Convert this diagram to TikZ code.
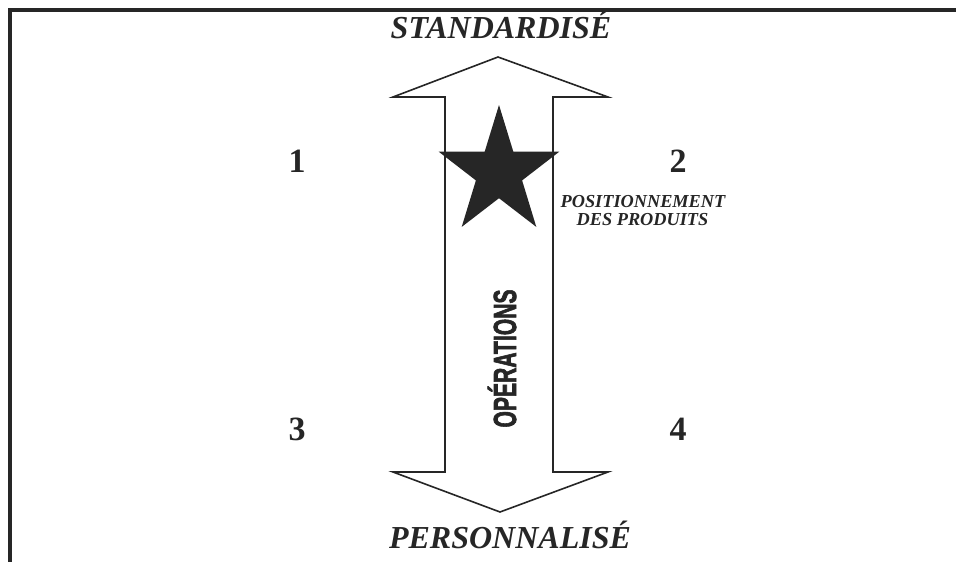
\documentclass[tikz,border=0pt]{standalone}
\usepackage{fontspec}
\setmainfont{Liberation Serif}
\newfontfamily\opsfont[BoldFeatures={FakeBold=2.5}]{Liberation Sans}
\definecolor{ink}{HTML}{262626}
\tikzset{
  frameline/.style={draw=ink, line width=4pt},
  arrowshape/.style={draw=ink, line width=1.6pt, line join=miter, fill=white},
  starshape/.style={fill=ink},
  headlabel/.style={font=\fontsize{32}{38}\selectfont\bfseries\itshape, text=ink, inner sep=0pt, anchor=base},
  numlabel/.style={font=\fontsize{34}{40}\selectfont\bfseries, text=ink, inner sep=0pt, anchor=base},
  smalllabel/.style={font=\fontsize{18.3}{18}\selectfont\bfseries\itshape, text=ink, inner sep=0pt, align=center, anchor=base},
  opslabel/.style={font=\opsfont\fontsize{32}{36}\selectfont\bfseries, text=ink, inner sep=0pt, rotate=90, xscale=0.66}
}
\begin{document}
\begin{tikzpicture}[x=1pt,y=-1pt]
\useasboundingbox (0,0) rectangle (956,562);
\fill[white] (0,0) rectangle (956,562);
% frame (top and left only)
\draw[frameline] (956,9.5) -- (10,9.5) -- (10,562);
% double-headed arrow
\draw[arrowshape] (498,57) -- (608,97) -- (553,97) -- (553,472) -- (608,472)
  -- (500,512) -- (393,472) -- (445,472) -- (445,97) -- (393,97) -- cycle;
% star
\fill[starshape] (499,105) -- (484.7,151.6) -- (438.6,151.6) -- (475.9,180.4)
  -- (461.7,226.9) -- (499,198.2) -- (536.3,226.9) -- (522.1,180.4)
  -- (559.4,151.6) -- (513.3,151.6) -- cycle;
% labels
\node[headlabel] (top) at (501,38) {STANDARDISÉ};
\node[headlabel] (bottom) at (510,548) {PERSONNALISÉ};
\node[numlabel] (q1) at (297,172) {1};
\node[numlabel] (q2) at (678,172) {2};
\node[numlabel] (q3) at (297,440) {3};
\node[numlabel] (q4) at (678,440) {4};
\node[smalllabel] (pos1) at (643,207) {POSITIONNEMENT};
\node[smalllabel] (pos2) at (642.5,225) {DES PRODUITS};
\node[opslabel] (ops) at (502,358.5) {OPÉRATIONS};
\end{tikzpicture}
\end{document}
